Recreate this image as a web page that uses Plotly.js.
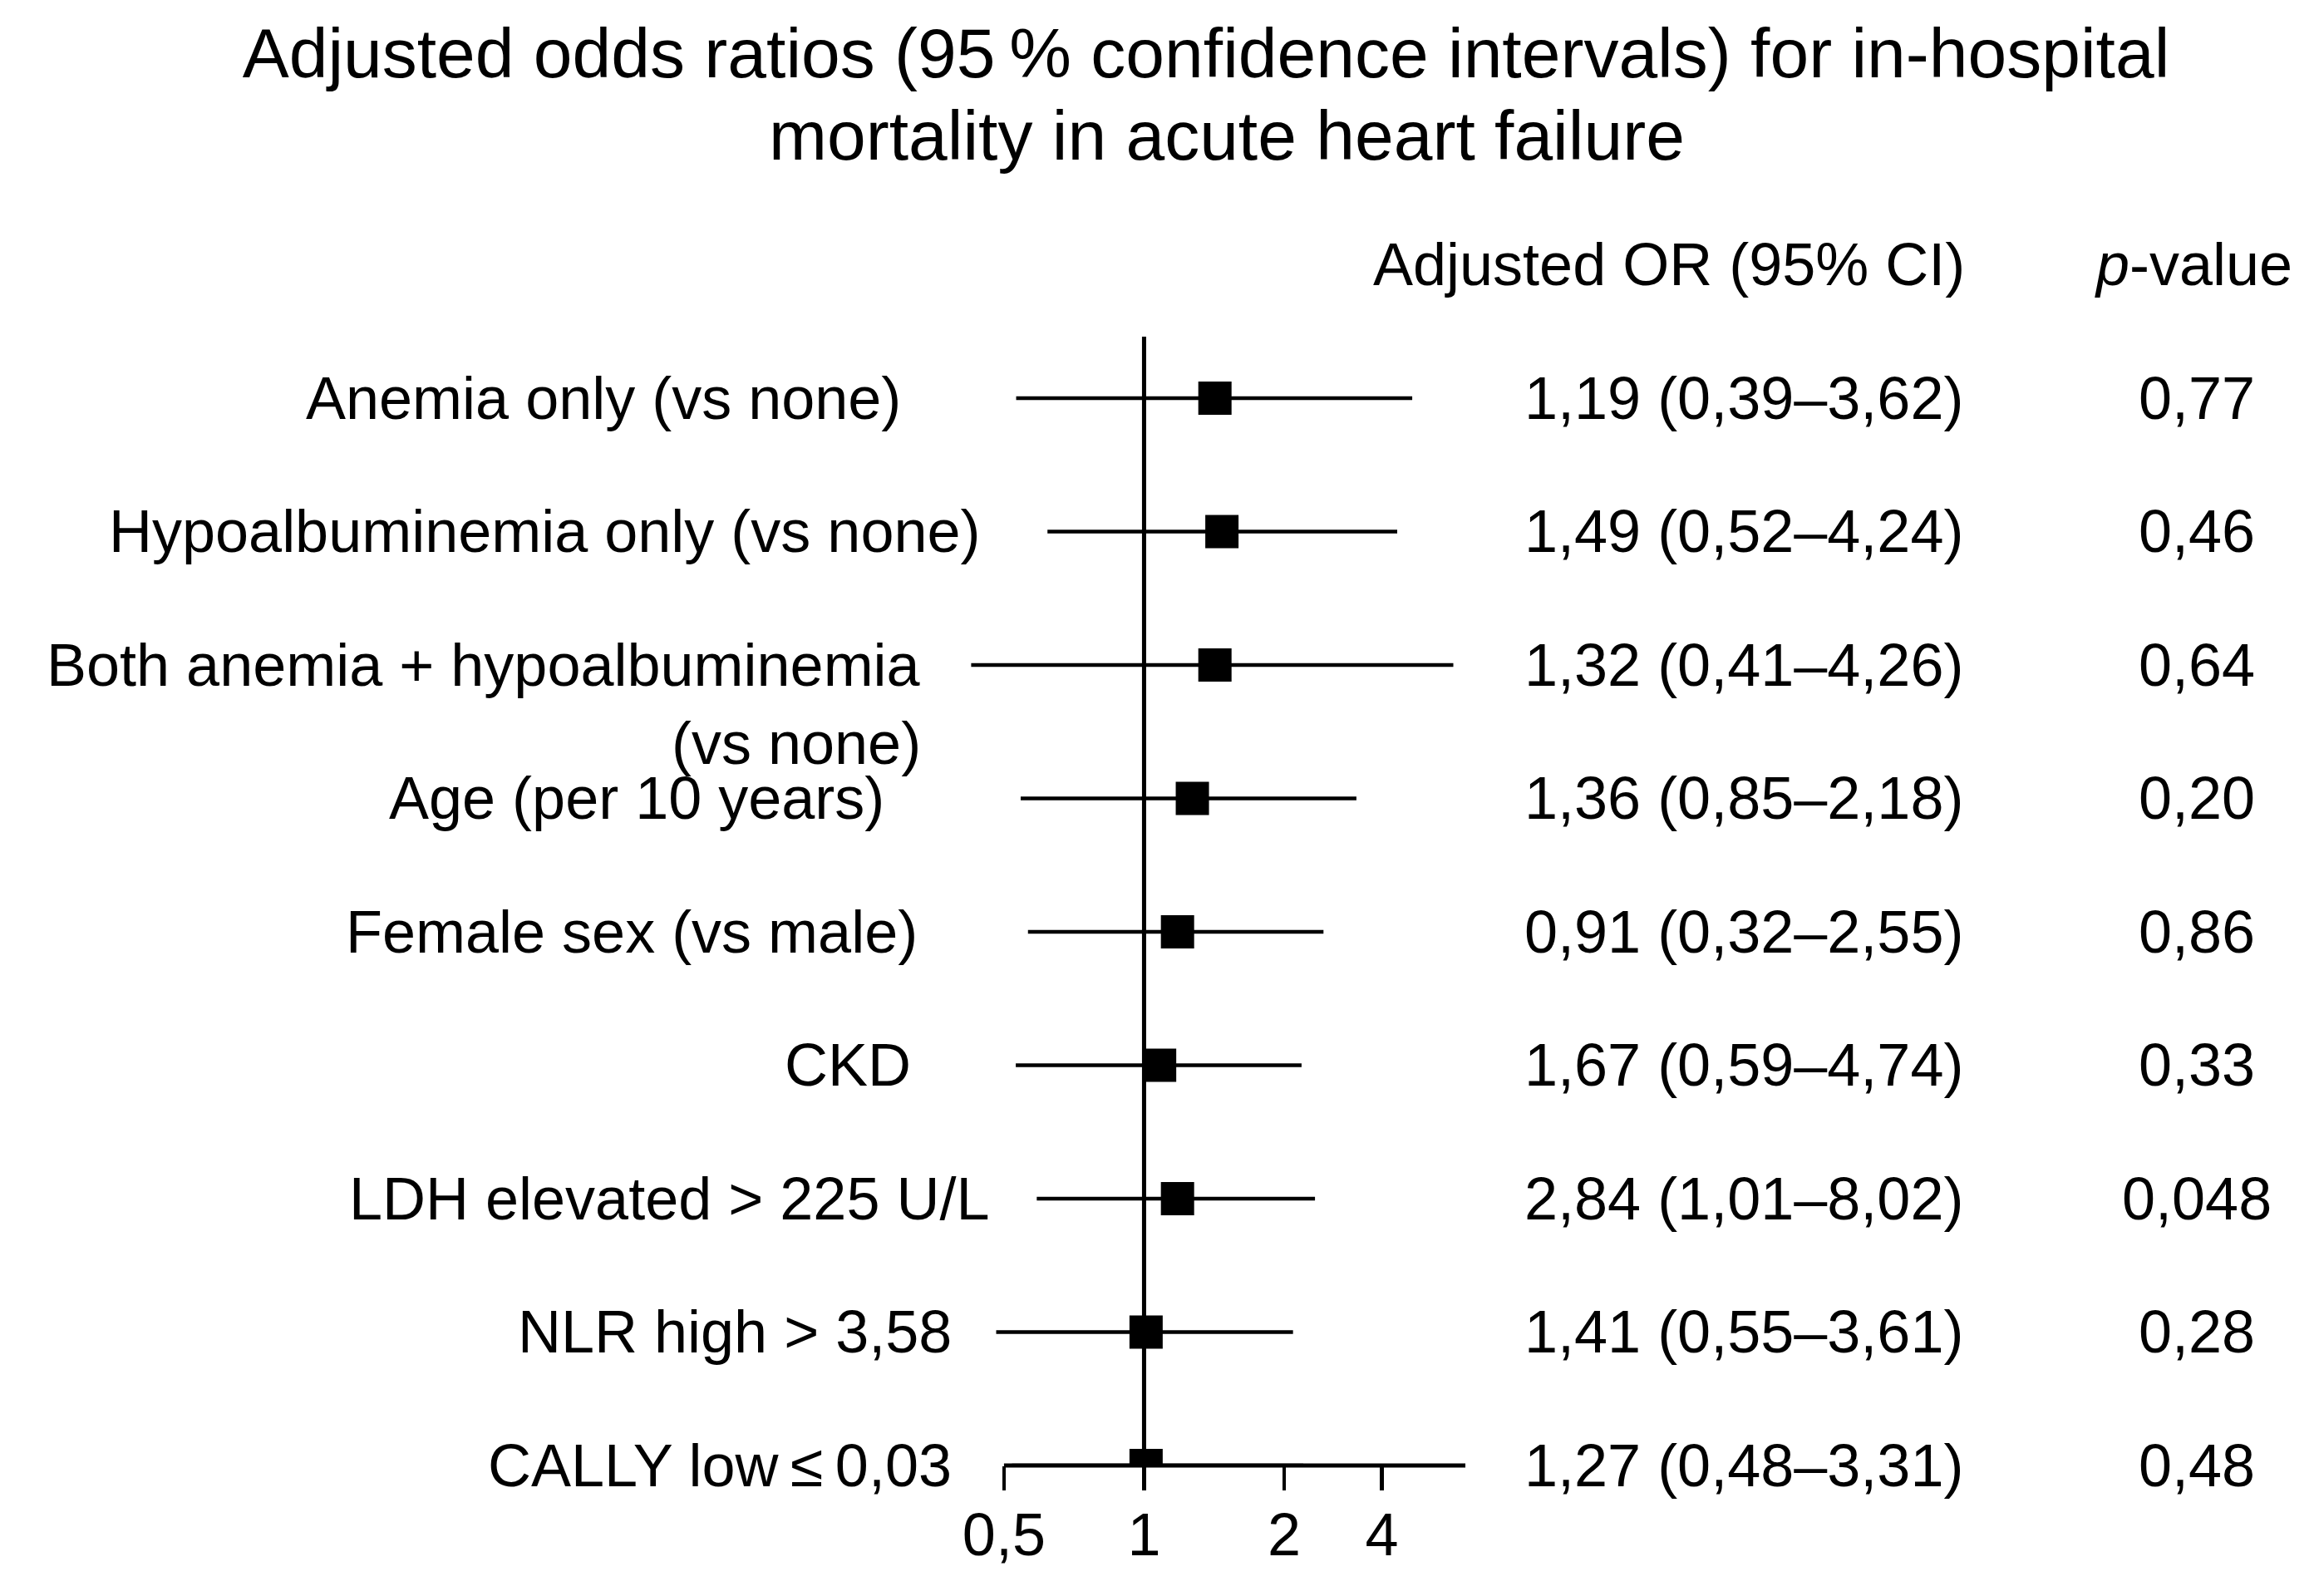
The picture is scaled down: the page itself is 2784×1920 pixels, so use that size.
<!DOCTYPE html>
<html>
<head>
<meta charset="utf-8">
<script src="https://cdn.plot.ly/plotly-3.0.1.min.js"></script>
<style>
  html, body { margin: 0; padding: 0; background: #ffffff; }
  #chart { width: 2784px; height: 1920px; }
</style>
</head>
<body>
<div id="chart"></div>
<script>
// ---------------- data ----------------
const titleLine1 = "Adjusted odds ratios (95\u2009% confidence intervals) for in-hospital";
const titleLine2 = "mortality in acute heart failure";
const headerOR = "Adjusted OR (95% CI)";
const headerP = "<i>p</i>-value";

const labels = [
  "Anemia only (vs none)",
  "Hypoalbuminemia only (vs none)",
  "Both anemia + hypoalbuminemia<br>(vs none)",
  "Age (per 10 years)",
  "Female sex (vs male)",
  "CKD",
  "LDH elevated > 225 U/L",
  "NLR high > 3,58",
  "CALLY low\u2009\u2264\u20090,03"
];

// marker and interval positions as drawn in the picture (odds-ratio scale)
const plotOR   = [1.42, 1.47, 1.42, 1.27, 1.18, 1.08, 1.18, 1.01, 1.01];
const plotLow  = [0.531, 0.620, 0.425, 0.543, 0.563, 0.530, 0.588, 0.481, 0.52];
const plotHigh = [3.77, 3.50, 4.62, 2.86, 2.43, 2.18, 2.33, 2.09, 2.2];

const orText = [
  "1,19 (0,39\u20133,62)",
  "1,49 (0,52\u20134,24)",
  "1,32 (0,41\u20134,26)",
  "1,36 (0,85\u20132,18)",
  "0,91 (0,32\u20132,55)",
  "1,67 (0,59\u20134,74)",
  "2,84 (1,01\u20138,02)",
  "1,41 (0,55\u20133,61)",
  "1,27 (0,48\u20133,31)"
];
const pText = ["0,77", "0,46", "0,64", "0,20", "0,86", "0,33", "0,048", "0,28", "0,48"];

const tickVals = [0.5, 1, 2, 3.243];
const tickText = ["0,5", "1", "2", "4"];
const refLine = 1;

// ---------------- layout geometry (pixels) ----------------
const FONT = "Liberation Sans, Arial, Helvetica, sans-serif";
const W = 2784, H = 1920;
const M = { l: 1150, r: 1021, t: 405, b: 157 };
const plotW = W - M.l - M.r;
const plotH = H - M.t - M.b;
const xMin = 0.394, xMax = 4.904;
const yTop = 8.461;
const FS = 72;
const TITLE_FS = 84;

const labelRightPx = [1086, 1182, 1110, 1066, 1106, 1098, 1192, 1147, 1147];
const orRightPx = 2364;
const pCenterPx = 2643;
const headerRow = 9;

const px2x = px => (px - M.l) / plotW;
const py2y = py => (H - M.b - py) / plotH;
const row2y = r => r / yTop;

const rowY = labels.map((_, i) => labels.length - 1 - i);

// ---------------- traces ----------------
const forest = {
  type: "scatter",
  mode: "markers",
  x: plotOR,
  y: rowY,
  marker: { symbol: "square", size: 40, color: "#000000", line: { width: 0 } },
  error_x: {
    type: "data",
    symmetric: false,
    array: plotHigh.map((h, i) => h - plotOR[i]),
    arrayminus: plotOR.map((o, i) => o - plotLow[i]),
    width: 0,
    thickness: 4.5,
    color: "#000000"
  },
  hoverinfo: "skip",
  showlegend: false
};

// ---------------- annotations ----------------
const annotations = [];
const txt = (text, x, y, xanchor, size, extra) => Object.assign({
  text: text, x: x, y: y, xref: "paper", yref: "paper",
  xanchor: xanchor, yanchor: "middle", showarrow: false,
  font: { family: FONT, size: size || FS, color: "#000000" }
}, extra || {});

labels.forEach((lab, i) => {
  lab.split("<br>").forEach((line, j) => {
    annotations.push(txt(line, px2x(labelRightPx[i]), row2y(rowY[i]), "right", FS,
      { yshift: -j * 1.3 * FS }));
  });
  annotations.push(txt(orText[i], px2x(orRightPx), row2y(rowY[i]), "right"));
  annotations.push(txt(pText[i], px2x(pCenterPx), row2y(rowY[i]), "center"));
});
annotations.push(txt(headerOR, px2x(2366), row2y(headerRow), "right"));
annotations.push(txt(headerP, px2x(2639), row2y(headerRow), "center"));
annotations.push(txt(titleLine2, px2x(1476), py2y(163), "center", TITLE_FS));

const layout = {
  width: W,
  height: H,
  paper_bgcolor: "#ffffff",
  plot_bgcolor: "#ffffff",
  margin: M,
  font: { family: FONT, size: FS, color: "#000000" },
  title: {
    text: titleLine1,
    font: { family: FONT, size: TITLE_FS, color: "#000000" },
    xref: "container", x: 1451 / W, xanchor: "center",
    yref: "container", y: 1 - 64 / H, yanchor: "middle"
  },
  showlegend: false,
  xaxis: {
    type: "log",
    range: [Math.log10(xMin), Math.log10(xMax)],
    tickmode: "array",
    tickvals: tickVals,
    ticktext: tickText,
    ticks: "outside",
    ticklen: 29,
    tickwidth: 4.5,
    tickcolor: "#000000",
    ticklabelstandoff: -8,
    tickfont: { family: FONT, size: FS, color: "#000000" },
    showline: false,
    showgrid: false,
    zeroline: false,
    fixedrange: true
  },
  yaxis: {
    range: [0, yTop],
    visible: false,
    fixedrange: true
  },
  shapes: [
    { type: "line", xref: "x", yref: "paper", x0: refLine, x1: refLine, y0: 0, y1: 1,
      line: { color: "#000000", width: 5 } },
    { type: "line", xref: "x", yref: "paper", x0: tickVals[0], x1: xMax, y0: 0, y1: 0,
      line: { color: "#000000", width: 5 } }
  ],
  annotations: annotations
};

Plotly.newPlot("chart", [forest], layout, { displayModeBar: false, staticPlot: true });
</script>
</body>
</html>
